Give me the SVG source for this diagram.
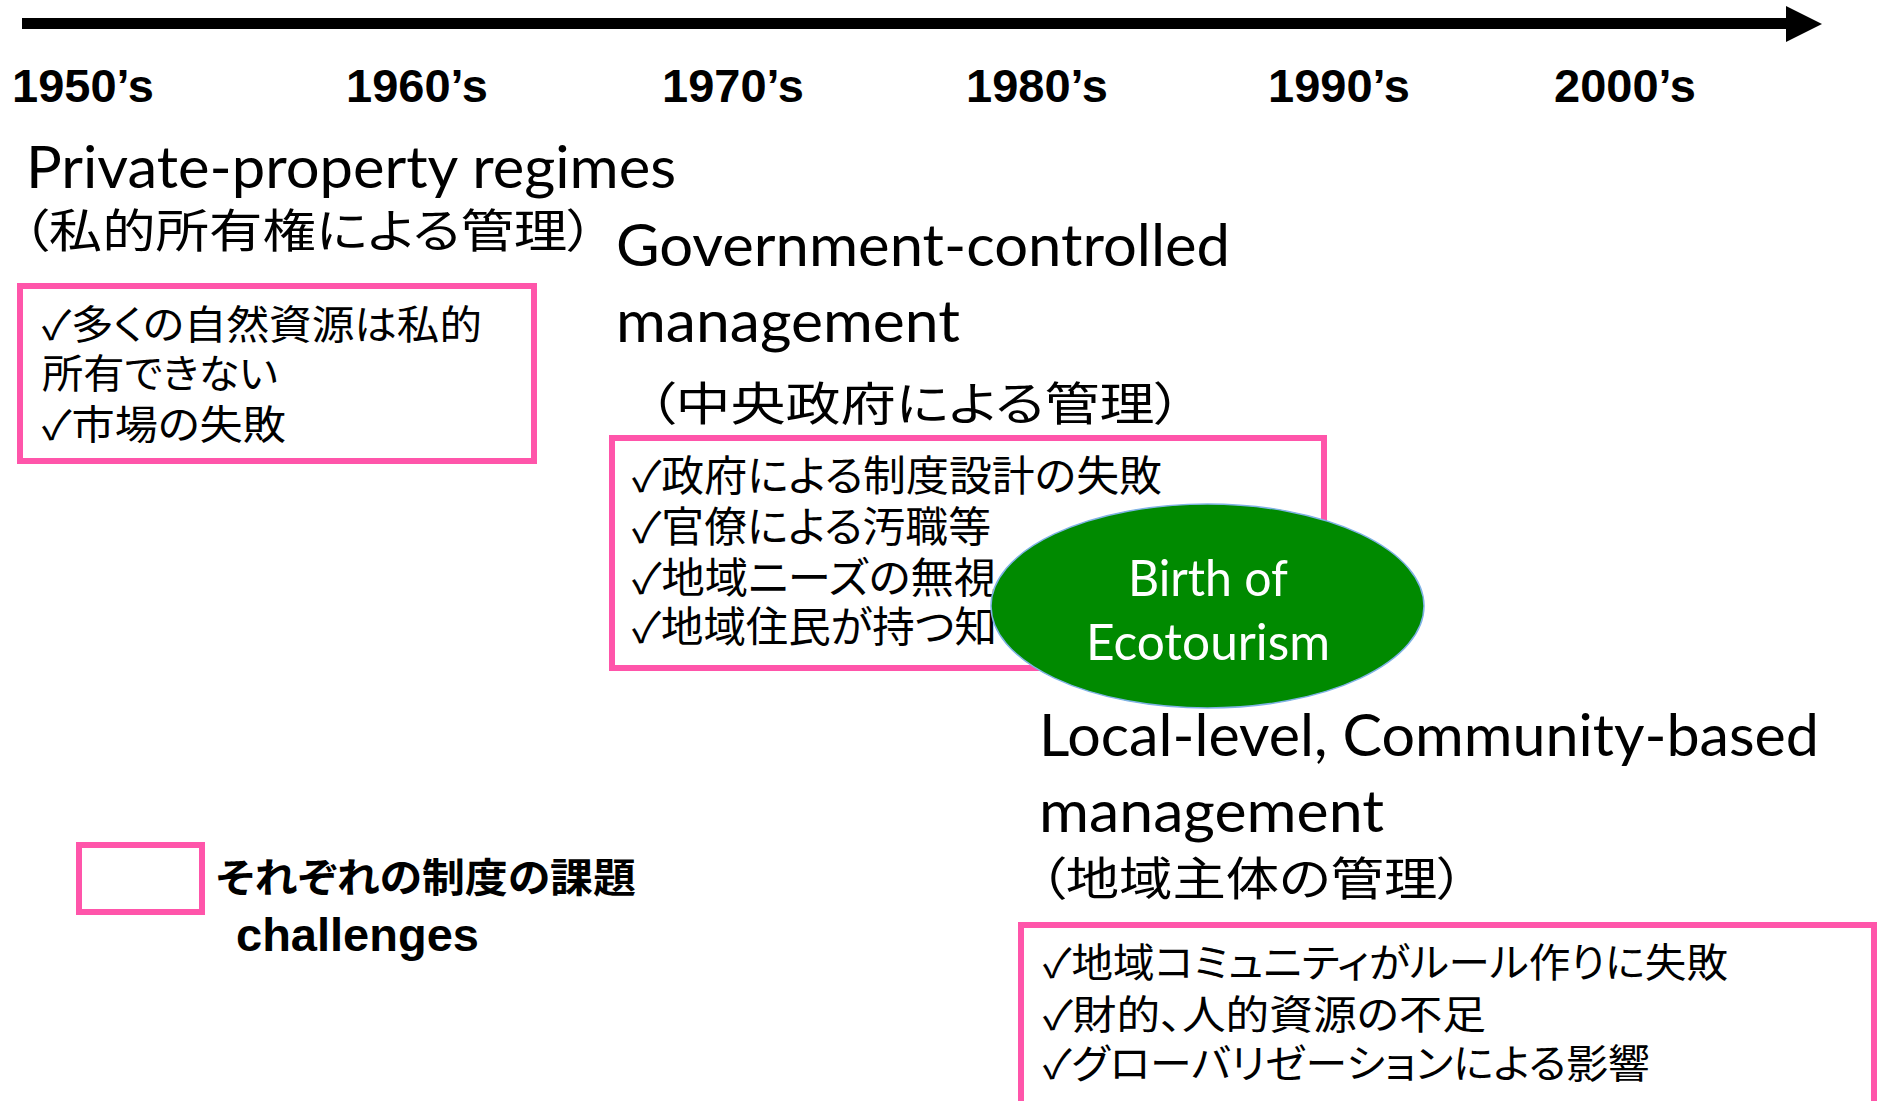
<svg xmlns="http://www.w3.org/2000/svg" width="1881" height="1101" viewBox="0 0 1881 1101">
<style>
.dec{font-family:"Liberation Sans",Arial,sans-serif;font-weight:bold;font-size:46px;fill:#000}
.hd{font-family:Lato,"Open Sans",sans-serif;font-size:58px;fill:#000}
.hj{font-family:"Liberation Sans","Noto Sans CJK JP",sans-serif;font-size:46px;fill:#000;font-feature-settings:"palt"}
.bj{font-family:"Liberation Sans","Noto Sans CJK JP",sans-serif;font-size:40px;fill:#000;font-feature-settings:"palt"}
.box{fill:none;stroke:#FF55AA;stroke-width:6}
.wt{font-family:Lato,"Open Sans",sans-serif;font-size:50px;fill:#fff;text-anchor:middle}
</style>
<rect width="1881" height="1101" fill="#fff"/>
<g id="connectors">
<line x1="22" y1="23.5" x2="1790" y2="23.5" stroke="#000" stroke-width="11"/>
<polygon points="1786,6 1822,24 1786,42" fill="#000"/>
</g>
<g id="decades">
<text class="dec" x="12" y="102" textLength="142" lengthAdjust="spacingAndGlyphs">1950’s</text>
<text class="dec" x="346" y="102" textLength="142" lengthAdjust="spacingAndGlyphs">1960’s</text>
<text class="dec" x="662" y="102" textLength="142" lengthAdjust="spacingAndGlyphs">1970’s</text>
<text class="dec" x="966" y="102" textLength="142" lengthAdjust="spacingAndGlyphs">1980’s</text>
<text class="dec" x="1268" y="102" textLength="142" lengthAdjust="spacingAndGlyphs">1990’s</text>
<text class="dec" x="1554" y="102" textLength="142" lengthAdjust="spacingAndGlyphs">2000’s</text>
</g>
<g id="private">
<text class="hd" x="26" y="188" textLength="650" lengthAdjust="spacingAndGlyphs">Private-property regimes</text>
<text class="hj" x="22" y="247" textLength="572" lengthAdjust="spacingAndGlyphs">（私的所有権による管理）</text>
<rect class="box" x="20" y="286" width="514" height="175"/>
<text class="bj"><tspan x="42" y="339" textLength="440" lengthAdjust="spacingAndGlyphs">✓多くの自然資源は私的</tspan><tspan x="42" y="388" textLength="236" lengthAdjust="spacingAndGlyphs">所有できない</tspan><tspan x="42" y="439" textLength="244" lengthAdjust="spacingAndGlyphs">✓市場の失敗</tspan></text>
</g>
<g id="government">
<text class="hd" x="616" y="266" textLength="614" lengthAdjust="spacingAndGlyphs">Government-controlled</text>
<text class="hd" x="616" y="342" textLength="344" lengthAdjust="spacingAndGlyphs">management</text>
<text class="hj" x="648" y="420" textLength="534" lengthAdjust="spacingAndGlyphs">（中央政府による管理）</text>
<rect class="box" x="612" y="438" width="712" height="230"/>
<text class="bj" style="font-size:42px"><tspan x="632" y="491" textLength="530" lengthAdjust="spacingAndGlyphs">✓政府による制度設計の失敗</tspan><tspan x="632" y="542" textLength="359" lengthAdjust="spacingAndGlyphs">✓官僚による汚職等</tspan><tspan x="632" y="593" textLength="365" lengthAdjust="spacingAndGlyphs">✓地域ニーズの無視</tspan><tspan x="632" y="642" textLength="365" lengthAdjust="spacingAndGlyphs">✓地域住民が持つ知</tspan></text>
</g>
<g id="ecotourism">
<ellipse cx="1207.5" cy="606" rx="216.5" ry="102" fill="#008A00" stroke="#7FB2E5" stroke-width="1.5"/>
<text class="wt"><tspan x="1208" y="596" textLength="160" lengthAdjust="spacingAndGlyphs">Birth of</tspan><tspan x="1208" y="660" textLength="244" lengthAdjust="spacingAndGlyphs">Ecotourism</tspan></text>
</g>
<g id="community">
<text class="hd" x="1039" y="756" textLength="780" lengthAdjust="spacingAndGlyphs">Local-level, Community-based</text>
<text class="hd" x="1039" y="832" textLength="345" lengthAdjust="spacingAndGlyphs">management</text>
<text class="hj" x="1039" y="895" textLength="425" lengthAdjust="spacingAndGlyphs">（地域主体の管理）</text>
<rect class="box" x="1021" y="925" width="853" height="200"/>
<text class="bj"><tspan x="1043" y="977" textLength="685" lengthAdjust="spacingAndGlyphs">✓地域コミュニティがルール作りに失敗</tspan><tspan x="1043" y="1029" textLength="443" lengthAdjust="spacingAndGlyphs">✓財的、人的資源の不足</tspan><tspan x="1043" y="1078" textLength="607" lengthAdjust="spacingAndGlyphs">✓グローバリゼーションによる影響</tspan></text>
</g>
<g id="legend">
<rect class="box" x="79" y="845" width="123" height="67"/>
<text class="bj" style="font-weight:bold" x="216" y="892" textLength="420" lengthAdjust="spacingAndGlyphs">それぞれの制度の課題</text>
<text x="236" y="951" style="font-family:'Liberation Sans',Arial,sans-serif;font-weight:bold;font-size:47px">challenges</text>
</g>
</svg>
